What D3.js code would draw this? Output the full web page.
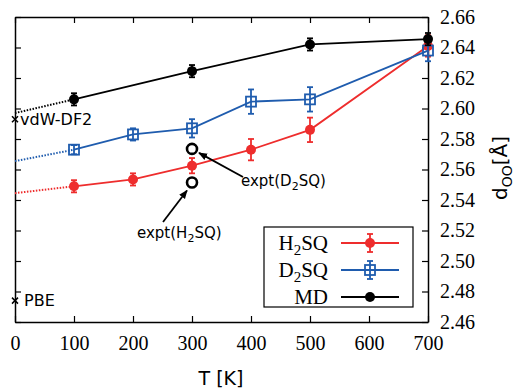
<!DOCTYPE html>
<html>
<head>
<meta charset="utf-8">
<script src="https://cdn.jsdelivr.net/npm/d3@7"></script>
<style>
  body { margin: 0; background: #fff; }
  svg { display: block; }
</style>
</head>
<body>
<div id="chart"></div>
<script>
// temperatures (K)
const temps = [100, 200, 300, 400, 500, 700];
const tempsMD = [100, 300, 500, 700];

// d_OO values and error bars
const h2sq = [2.549, 2.5535, 2.5625, 2.573, 2.586, 2.641];
const h2sqErr = [0.004, 0.004, 0.005, 0.007, 0.008, 0.007];
const d2sq = [2.573, 2.583, 2.587, 2.6045, 2.606, 2.638];
const d2sqErr = [0.003, 0.004, 0.006, 0.008, 0.008, 0.007];
const md = [2.606, 2.6245, 2.642, 2.6455];
const mdErr = [0.004, 0.004, 0.004, 0.004];

// extrapolation to T = 0
const h2sqZero = 2.5445;
const d2sqZero = 2.5655;
const mdZero = 2.597;

// reference points at T = 0 and experiment at 300 K
const staticRefs = [{ name: 'vdW-DF2', v: 2.593, gap: 5 }, { name: 'PBE', v: 2.474, gap: 9 }];
const exptH2 = 2.5515;
const exptD2 = 2.5735;

const xTicks = [0, 100, 200, 300, 400, 500, 600, 700];
const yTicks = [2.46, 2.48, 2.50, 2.52, 2.54, 2.56, 2.58, 2.60, 2.62, 2.64, 2.66];

const width = 522, height = 389;
const margin = { top: 17, right: 94, bottom: 67, left: 15 };

const RED = '#ee2d2d', BLUE = '#1f5cae', BLACK = '#000';

const svg = d3.select('#chart').append('svg')
  .attr('width', width).attr('height', height);

const x = d3.scaleLinear().domain([0, 700]).range([margin.left, width - margin.right]);
const y = d3.scaleLinear().domain([2.46, 2.66]).range([height - margin.bottom, margin.top]);

const serif = 'Liberation Serif, Times New Roman, serif';
const sans = 'DejaVu Sans, sans-serif';

// axes: ticks point inwards
const axisG = svg.append('g');
axisG.append('g')
  .attr('transform', `translate(0,${y(2.46)})`)
  .call(d3.axisBottom(x).tickValues(xTicks).tickSizeInner(-6).tickSizeOuter(0).tickPadding(14))
  .call(g => g.selectAll('text').attr('font-family', serif).attr('font-size', 20).attr('fill', '#000'));
axisG.append('g')
  .attr('transform', `translate(0,${y(2.66)})`)
  .call(d3.axisTop(x).tickValues(xTicks).tickSizeInner(-6).tickSizeOuter(0).tickFormat(''));
axisG.append('g')
  .attr('transform', `translate(${x(0)},0)`)
  .call(d3.axisLeft(y).tickValues(yTicks).tickSizeInner(-6).tickSizeOuter(0).tickFormat(''));
axisG.append('g')
  .attr('transform', `translate(${x(700)},0)`)
  .call(d3.axisRight(y).tickValues(yTicks).tickSizeInner(-6).tickSizeOuter(0).tickPadding(12)
    .tickFormat(d3.format('.2f')))
  .call(g => g.selectAll('text').attr('font-family', serif).attr('font-size', 20).attr('fill', '#000'));
axisG.selectAll('.domain').attr('stroke-width', 1.5);
axisG.selectAll('.tick line').attr('stroke-width', 1.2);

// axis titles
svg.append('text')
  .attr('x', 221).attr('y', 385)
  .attr('text-anchor', 'middle')
  .attr('font-family', sans).attr('font-size', 19)
  .text('T [K]');
const yl = svg.append('text')
  .attr('transform', `translate(507,${168}) rotate(-90)`)
  .attr('text-anchor', 'middle')
  .attr('font-family', sans).attr('font-size', 20);
yl.append('tspan').text('d');
yl.append('tspan').attr('font-size', 14).attr('dy', 5).text('OO');
yl.append('tspan').attr('dy', -5).text('[Å]');

const line = d3.line().x(d => x(d[0])).y(d => y(d[1]));

function drawSeries(ts, vals, errs, zero, color, marker) {
  const g = svg.append('g');
  g.append('path')
    .attr('d', line([[0, zero], [ts[0], vals[0]]]))
    .attr('fill', 'none').attr('stroke', color)
    .attr('stroke-width', 2).attr('stroke-dasharray', '1.5,1.5');
  g.append('path')
    .attr('d', line(ts.map((t, i) => [t, vals[i]])))
    .attr('fill', 'none').attr('stroke', color).attr('stroke-width', 1.8);
  const eb = g.selectAll('.eb').data(ts).join('g');
  eb.append('line')
    .attr('x1', t => x(t)).attr('x2', t => x(t))
    .attr('y1', (t, i) => y(vals[i] - errs[i])).attr('y2', (t, i) => y(vals[i] + errs[i]))
    .attr('stroke', color).attr('stroke-width', 1.8);
  [-1, 1].forEach(s => {
    eb.append('line')
      .attr('x1', t => x(t) - 3).attr('x2', t => x(t) + 3)
      .attr('y1', (t, i) => y(vals[i] + s * errs[i])).attr('y2', (t, i) => y(vals[i] + s * errs[i]))
      .attr('stroke', color).attr('stroke-width', 1.8);
  });
  ts.forEach((t, i) => marker(g, x(t), y(vals[i]), color));
}

const filledCircle = (g, cx, cy, c) =>
  g.append('circle').attr('cx', cx).attr('cy', cy).attr('r', 5).attr('fill', c);
const openSquare = (g, cx, cy, c) =>
  g.append('rect').attr('x', cx - 5).attr('y', cy - 5).attr('width', 10).attr('height', 10)
    .attr('fill', 'none').attr('stroke', c).attr('stroke-width', 1.8);

drawSeries(temps, h2sq, h2sqErr, h2sqZero, RED, filledCircle);
drawSeries(temps, d2sq, d2sqErr, d2sqZero, BLUE, openSquare);
drawSeries(tempsMD, md, mdErr, mdZero, BLACK, filledCircle);

// static reference crosses
staticRefs.forEach(r => {
  const cx = x(0), cy = y(r.v), s = 3;
  svg.append('path')
    .attr('d', `M${cx - s},${cy - s}L${cx + s},${cy + s}M${cx - s},${cy + s}L${cx + s},${cy - s}`)
    .attr('stroke', '#000').attr('stroke-width', 1.5);
  svg.append('text')
    .attr('x', cx + r.gap).attr('y', cy).attr('dy', '0.36em')
    .attr('font-family', sans).attr('font-size', 16)
    .text(r.name);
});

// experiment points
[exptH2, exptD2].forEach(v => {
  svg.append('circle')
    .attr('cx', x(300)).attr('cy', y(v)).attr('r', 5)
    .attr('fill', 'none').attr('stroke', '#000').attr('stroke-width', 2.6);
});

svg.append('defs').append('marker')
  .attr('id', 'arrow').attr('viewBox', '0 0 10 10')
  .attr('refX', 9).attr('refY', 5)
  .attr('markerWidth', 9).attr('markerHeight', 9).attr('orient', 'auto')
  .attr('markerUnits', 'userSpaceOnUse')
  .append('path').attr('d', 'M0,1 L10,5 L0,9 Z').attr('fill', '#000');

function annotate(tail, head, label, lx, ly, sub) {
  svg.append('line')
    .attr('x1', tail[0]).attr('y1', tail[1]).attr('x2', head[0]).attr('y2', head[1])
    .attr('stroke', '#000').attr('stroke-width', 1.8).attr('marker-end', 'url(#arrow)');
  const t = svg.append('text').attr('x', lx).attr('y', ly)
    .attr('font-family', sans).attr('font-size', 15);
  t.append('tspan').text(label[0]);
  t.append('tspan').attr('font-size', 11).attr('dy', 4).text(sub);
  t.append('tspan').attr('dy', -4).text(label[1]);
}
annotate([243, 177], [x(300) + 7, y(exptD2) + 4], ['expt(D', 'SQ)'], 241, 186, '2');
annotate([163, 222], [x(300) - 5, y(exptH2) + 8], ['expt(H', 'SQ)'], 137, 238, '2');

// legend
const legend = svg.append('g');
legend.append('rect')
  .attr('x', 264).attr('y', 227).attr('width', 149).attr('height', 80)
  .attr('fill', '#fff').attr('stroke', '#000').attr('stroke-width', 1.2);
const legendItems = [
  { name: ['H', 'SQ'], sub: '2', color: RED, marker: filledCircle, err: true },
  { name: ['D', 'SQ'], sub: '2', color: BLUE, marker: openSquare, err: true },
  { name: ['MD', ''], sub: '', color: BLACK, marker: filledCircle, err: false }
];
legendItems.forEach((d, i) => {
  const cy = 243 + i * 27;
  const t = legend.append('text').attr('x', 328).attr('y', cy).attr('dy', '0.35em')
    .attr('text-anchor', 'end').attr('font-family', serif).attr('font-size', 21);
  t.append('tspan').text(d.name[0]);
  if (d.sub) {
    t.append('tspan').attr('font-size', 15).attr('dy', 5).text(d.sub);
    t.append('tspan').attr('dy', -5).text(d.name[1]);
  }
  legend.append('line').attr('x1', 341).attr('x2', 399).attr('y1', cy).attr('y2', cy)
    .attr('stroke', d.color).attr('stroke-width', 1.8);
  if (d.err) {
    legend.append('line').attr('x1', 370).attr('x2', 370).attr('y1', cy - 9).attr('y2', cy + 9)
      .attr('stroke', d.color).attr('stroke-width', 1.8);
    [-9, 9].forEach(o => legend.append('line')
      .attr('x1', 367).attr('x2', 373).attr('y1', cy + o).attr('y2', cy + o)
      .attr('stroke', d.color).attr('stroke-width', 1.8));
  }
  d.marker(legend, 370, cy, d.color);
});
</script>
</body>
</html>
